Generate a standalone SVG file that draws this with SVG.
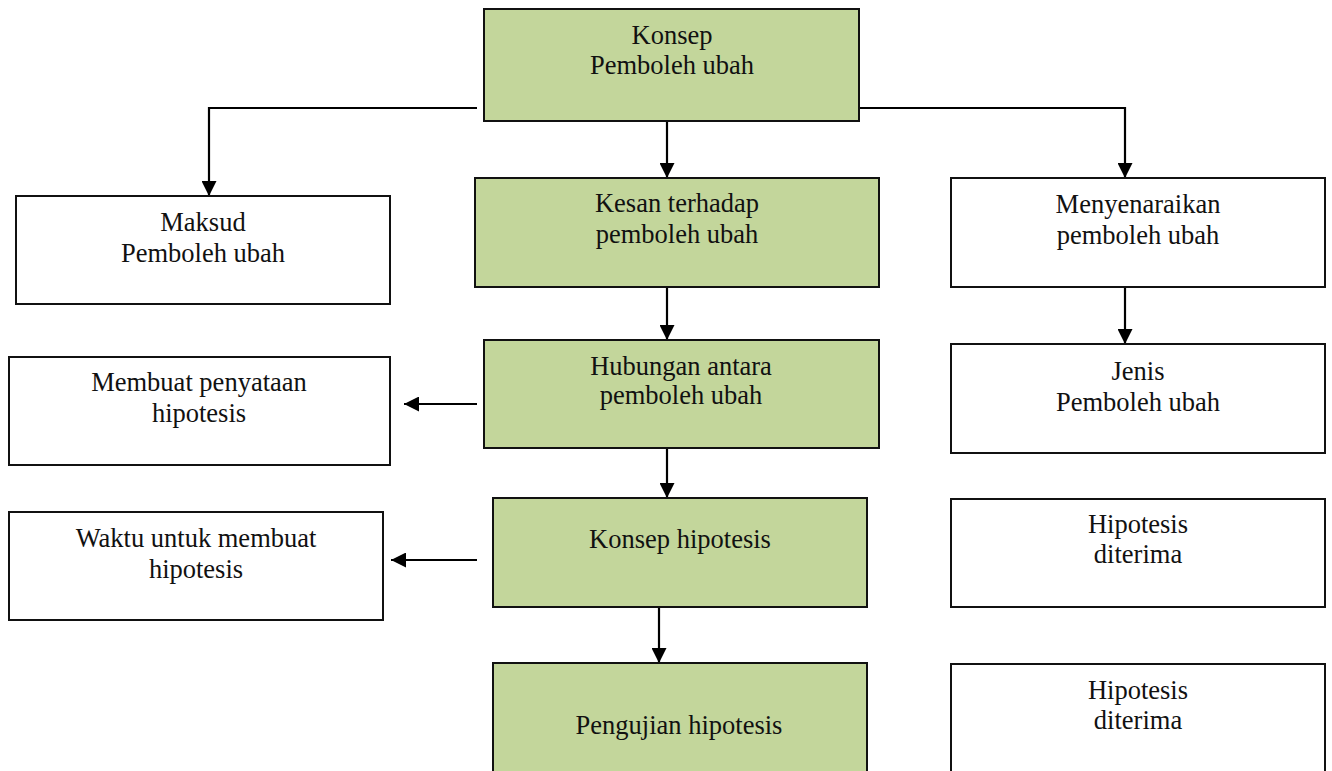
<svg xmlns="http://www.w3.org/2000/svg" width="1332" height="771" viewBox="0 0 1332 771">
<defs>
<marker id="ah" viewBox="0 0 10 10" refX="10" refY="5" markerWidth="15" markerHeight="15" markerUnits="userSpaceOnUse" orient="auto">
<path d="M0,0 L10,5 L0,10 z" fill="#000"/>
</marker>
<style>
.box{fill:#fff;stroke:#111;stroke-width:2}
.green{fill:#c3d69b;stroke:#111;stroke-width:2}
.t{font-family:"Liberation Serif","Times New Roman",serif;font-size:26.5px;fill:#111;text-anchor:middle}
.c{fill:none;stroke:#000;stroke-width:2.2;marker-end:url(#ah)}
</style>
</defs>
<rect width="1332" height="771" fill="#fff"/>
<g id="connectors">
<path class="c" d="M477,108 H209 V196"/>
<path class="c" d="M859,108 H1125 V178"/>
<path class="c" d="M667,121 V178"/>
<path class="c" d="M1125,287 V344"/>
<path class="c" d="M667,287 V340"/>
<path class="c" d="M667,448 V498"/>
<path class="c" d="M659,607 V663"/>
<path class="c" d="M477,404 H404"/>
<path class="c" d="M477,560 H391"/>
</g>
<g id="konsep">
<rect class="green" x="484" y="9" width="375" height="112"/>
<text class="t" x="672" y="44">Konsep</text>
<text class="t" x="672" y="74">Pemboleh ubah</text>
</g>
<g id="maksud">
<rect class="box" x="16" y="196" width="374" height="108"/>
<text class="t" x="203" y="231">Maksud</text>
<text class="t" x="203" y="262">Pemboleh ubah</text>
</g>
<g id="kesan">
<rect class="green" x="475" y="178" width="404" height="109"/>
<text class="t" x="677" y="212">Kesan terhadap</text>
<text class="t" x="677" y="243">pemboleh ubah</text>
</g>
<g id="menyenaraikan">
<rect class="box" x="951" y="178" width="374" height="109"/>
<text class="t" x="1138" y="213">Menyenaraikan</text>
<text class="t" x="1138" y="244">pemboleh ubah</text>
</g>
<g id="hubungan">
<rect class="green" x="484" y="340" width="395" height="108"/>
<text class="t" x="681" y="375">Hubungan antara</text>
<text class="t" x="681" y="404">pemboleh ubah</text>
</g>
<g id="membuat">
<rect class="box" x="9" y="357" width="381" height="108"/>
<text class="t" x="199" y="391">Membuat penyataan</text>
<text class="t" x="199" y="422">hipotesis</text>
</g>
<g id="jenis">
<rect class="box" x="951" y="344" width="374" height="109"/>
<text class="t" x="1138" y="380">Jenis</text>
<text class="t" x="1138" y="411">Pemboleh ubah</text>
</g>
<g id="konsep-hipotesis">
<rect class="green" x="493" y="498" width="374" height="109"/>
<text class="t" x="680" y="548">Konsep hipotesis</text>
</g>
<g id="waktu">
<rect class="box" x="9" y="512" width="374" height="108"/>
<text class="t" x="196" y="547">Waktu untuk membuat</text>
<text class="t" x="196" y="578">hipotesis</text>
</g>
<g id="hipotesis1">
<rect class="box" x="951" y="499" width="374" height="108"/>
<text class="t" x="1138" y="533">Hipotesis</text>
<text class="t" x="1138" y="563">diterima</text>
</g>
<g id="pengujian">
<rect class="green" x="493" y="663" width="374" height="120"/>
<text class="t" x="679" y="734">Pengujian hipotesis</text>
</g>
<g id="hipotesis2">
<rect class="box" x="951" y="664" width="374" height="120"/>
<text class="t" x="1138" y="699">Hipotesis</text>
<text class="t" x="1138" y="729">diterima</text>
</g>
</svg>
